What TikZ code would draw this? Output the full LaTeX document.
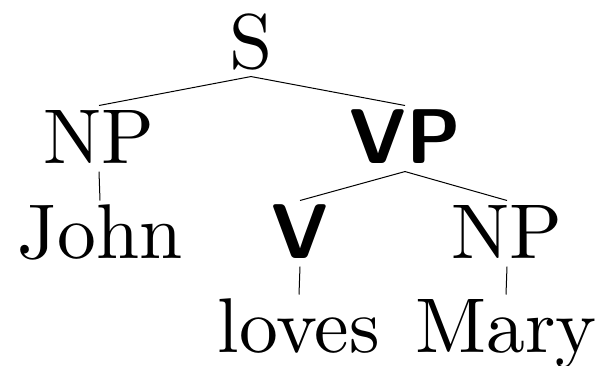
\documentclass[tikz,border=0pt]{standalone}
\begin{document}
\begin{tikzpicture}[x=1pt,y=-1pt,
  lab/.style={anchor=base, scale=7.76, font=\fontsize{10pt}{12pt}\selectfont, inner ysep=0.9pt, inner xsep=0pt, text depth=0pt, text height=6.31pt},
  bsf/.style={lab, font=\fontsize{10pt}{12pt}\selectfont\sffamily\bfseries},
  edge/.style={line width=1pt}]
\useasboundingbox (0,0) rectangle (600,365);
\node[lab] (S) at (251,68) {S};
\node[lab] (NP1) at (99,163) {NP};
\node[bsf] (VP) at (405,163) {VP};
\node[lab] (John) at (100,258) {John};
\node[bsf] (V) at (300,258) {V};
\node[lab] (NP2) at (507,258) {NP};
\node[lab] (loves) at (299,352) {loves};
\node[lab] (Mary) at (506,352) {Mary};
\draw[edge] (S.south) -- (NP1.north);
\draw[edge] (S.south) -- (VP.north);
\draw[edge] (NP1.south) -- (John.north);
\draw[edge] (VP.south) -- (V.north);
\draw[edge] (VP.south) -- (NP2.north);
\draw[edge] (V.south) -- (loves.north);
\draw[edge] (NP2.south) -- (Mary.north);
\end{tikzpicture}
\end{document}
